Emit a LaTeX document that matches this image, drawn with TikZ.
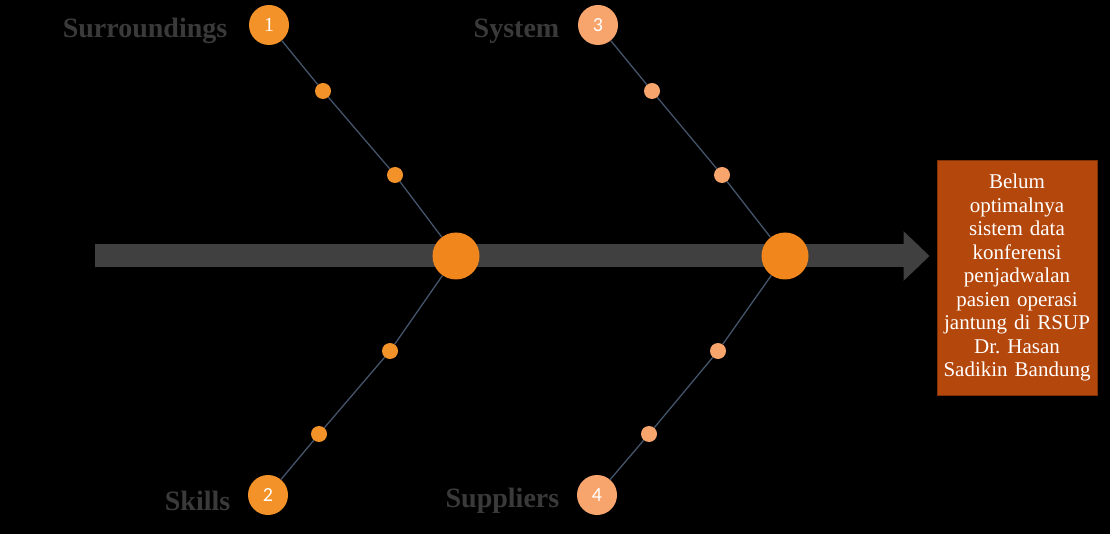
\documentclass[tikz,border=0pt]{standalone}
\usepackage{fontspec}
\setmainfont{Liberation Serif}
\newfontfamily\numfont{Carlito}
\usetikzlibrary{positioning,arrows.meta}
\definecolor{bone_grey}{HTML}{404040}
\definecolor{bone_slate}{HTML}{44546A}
\definecolor{dark_orange}{HTML}{F39228}
\definecolor{light_orange}{HTML}{F7A56C}
\definecolor{joint_orange}{HTML}{F0861C}
\definecolor{head_fill}{HTML}{B4470B}
\definecolor{head_border}{HTML}{7F3208}
\definecolor{label_grey}{HTML}{3A3A3A}
\tikzset{
    spine_line/.style = {
        draw=bone_grey,
        line width=23pt,
        -{Triangle[length=26pt,width=48pt]}
    },
    bone_line/.style = {
        draw=bone_slate,
        line width=1.3pt
    },
    num_circle/.style = {
        circle,
        minimum size=40pt,
        inner sep=0pt,
        text=white,
        font=\numfont\fontsize{20}{22}\selectfont
    },
    cause_dot/.style = {
        circle,
        minimum size=16pt,
        inner sep=0pt
    },
    big_joint/.style = {
        circle,
        fill=joint_orange,
        minimum size=47pt,
        inner sep=0pt
    },
    cause_label/.style = {
        text=label_grey,
        yshift=-6pt,
        font=\fontsize{28}{30}\selectfont\bfseries
    },
    head_box/.style = {
        draw=head_border,
        line width=0.8pt,
        fill=head_fill,
        text=white,
        minimum width=160pt,
        minimum height=235pt,
        text width=152pt,
        align=center,
        font=\fontsize{21}{23.5}\selectfont
    }
}
\begin{document}
\begin{tikzpicture}[x=1pt,y=-1pt]
    \fill[black] (0,0) rectangle (1110,534);
    \useasboundingbox (0,0) rectangle (1110,534);

    % effect
    \node[head_box] (effect) at (1017,277.5) {Belum\\ optimalnya\\ sistem data\\ konferensi\\ penjadwalan\\ pasien operasi\\ jantung di RSUP\\ Dr.\ Hasan\\ Sadikin Bandung};

    \coordinate (tail) at (95,256);
    \draw[spine_line, shorten >=7pt] (tail) -- (tail -| effect.west);

    % joints on the spine
    \node[big_joint] (j1) at (456,256) {};
    \node[big_joint] (j2) at (785,256) {};

    % numbered causes
    \node[num_circle, fill=dark_orange, font=\fontsize{20}{22}\selectfont] (n1) at (269,25) {1};
    \node[num_circle, fill=dark_orange] (n2) at (268,495) {2};
    \node[num_circle, fill=light_orange] (n3) at (598,25) {3};
    \node[num_circle, fill=light_orange] (n4) at (597,495) {4};

    \node[cause_label, left=18pt of n1] (l1) {Surroundings};
    \node[cause_label, left=14pt of n2] (l2) {Skills};
    \node[cause_label, left=15pt of n3] (l3) {System};
    \node[cause_label, left=14pt of n4] (l4) {Suppliers};

    % dots along the bones
    \node[cause_dot, fill=dark_orange] (d1a) at (323,91) {};
    \node[cause_dot, fill=dark_orange] (d1b) at (395,175) {};
    \node[cause_dot, fill=dark_orange] (d2a) at (390,351) {};
    \node[cause_dot, fill=dark_orange] (d2b) at (319,434) {};
    \node[cause_dot, fill=light_orange] (d3a) at (652,91) {};
    \node[cause_dot, fill=light_orange] (d3b) at (722,175) {};
    \node[cause_dot, fill=light_orange] (d4a) at (718,351) {};
    \node[cause_dot, fill=light_orange] (d4b) at (649,434) {};

    \draw[bone_line] (n1) -- (d1a) -- (d1b) -- (j1);
    \draw[bone_line] (n2) -- (d2b) -- (d2a) -- (j1);
    \draw[bone_line] (n3) -- (d3a) -- (d3b) -- (j2);
    \draw[bone_line] (n4) -- (d4b) -- (d4a) -- (j2);
\end{tikzpicture}
\end{document}
